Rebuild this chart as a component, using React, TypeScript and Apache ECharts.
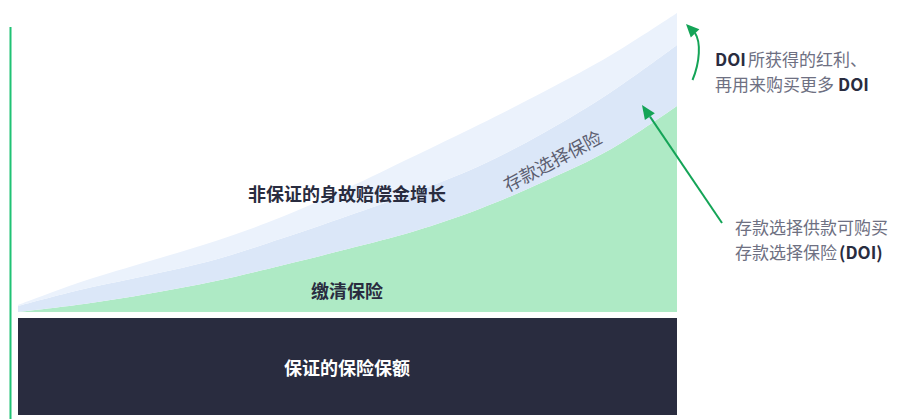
import React, { useEffect, useRef } from "react";
import * as echarts from "echarts";

// Policy years (hidden category axis)
const years = ["0", "1", "2", "3", "4", "5", "6", "7", "8", "9", "10"];
// Guaranteed sum assured (flat base block)
const guaranteedBase = [97, 97, 97, 97, 97, 97, 97, 97, 97, 97, 97];
// White separation between the base and the growth layers
const separation = [6, 6, 6, 6, 6, 6, 6, 6, 6, 6, 6];
// Paid-up additions (缴清保险)
const paidUp = [0, 8, 18.5, 31, 46.5, 63, 80.5, 103, 131, 163, 206];
// Deposit option insurance (存款选择保险)
const depositOption = [6, 15, 18.5, 21.5, 27, 33, 39, 43, 49, 57, 61];
// Dividends of DOI used to buy more DOI
const doiDividends = [1, 8, 14, 18.5, 21.5, 28, 36, 41.5, 41, 37, 32];

const DARK = "#292c3f";
const GREEN_AREA = "#aeeac5";
const MID_BLUE = "#dbe7f8";
const LIGHT_BLUE = "#ebf2fc";
const ARROW = "#14a457";
const GRAY = "#6e7082";
const FONT = "'Noto Sans CJK SC', 'Noto Sans', sans-serif";

export default function App() {
  const ref = useRef<HTMLDivElement>(null);
  useEffect(() => {
    if (!ref.current) return;
    const chart = echarts.init(ref.current, undefined, { renderer: "svg" });
    const layer = (name: string, data: number[], color: string | null) => ({
      name,
      type: "line",
      stack: "total",
      data,
      smooth: 0.35,
      symbol: "none",
      lineStyle: { width: 0, opacity: 0 },
      areaStyle: color ? { color, opacity: 1 } : undefined,
      silent: true,
      z: 1,
    });
    const Z = 100;
    const note = (text: string, x: number, y: number, bold: boolean) => ({
      type: "text",
      z: Z,
      x,
      y,
      style: {
        text,
        fill: bold ? DARK : GRAY,
        font: `${bold ? "bold " : ""}17px ${FONT}`,
        lineHeight: 20,
        align: "left",
        verticalAlign: "middle",
      },
    });
    chart.setOption({
      animation: false,
      grid: { left: 18, right: 225, top: 0, bottom: 4 },
      xAxis: {
        type: "category",
        data: years,
        boundaryGap: false,
        show: false,
      },
      yAxis: { type: "value", min: 0, max: 415, show: false },
      series: [
        layer("保证的保险保额", guaranteedBase, DARK),
        layer("gap", separation, null),
        layer("缴清保险", paidUp, GREEN_AREA),
        layer("存款选择保险", depositOption, MID_BLUE),
        layer("DOI 红利", doiDividends, LIGHT_BLUE),
      ],
      graphic: [
        {
          type: "line",
          z: Z,
          shape: { x1: 10.5, y1: 27, x2: 10.5, y2: 419 },
          style: { stroke: "#1fc274", lineWidth: 2 },
        },
        {
          type: "text",
          z: Z,
          x: 347,
          y: 193,
          style: {
            text: "非保证的身故赔偿金增长",
            fill: DARK,
            font: `bold 18px ${FONT}`,
            align: "center",
            verticalAlign: "middle",
          },
        },
        {
          type: "text",
          z: Z,
          x: 347,
          y: 290,
          style: {
            text: "缴清保险",
            fill: DARK,
            font: `bold 18px ${FONT}`,
            align: "center",
            verticalAlign: "middle",
          },
        },
        {
          type: "text",
          z: Z,
          x: 347,
          y: 367,
          style: {
            text: "保证的保险保额",
            fill: "#ffffff",
            font: `bold 18px ${FONT}`,
            align: "center",
            verticalAlign: "middle",
          },
        },
        {
          type: "text",
          z: Z,
          x: 552,
          y: 160,
          rotation: (28 * Math.PI) / 180,
          style: {
            text: "存款选择保险",
            fill: "#5b5e70",
            font: `18px ${FONT}`,
            align: "center",
            verticalAlign: "middle",
          },
        },
        note("DOI", 715, 58, true),
        note("所获得的红利、", 748, 58, false),
        note("再用来购买更多", 715, 83, false),
        note("DOI", 838, 83, true),
        note("存款选择供款可购买", 735, 226, false),
        note("存款选择保险", 735, 251, false),
        note("(DOI)", 839, 251, true),
        {
          type: "bezierCurve",
          z: Z,
          shape: { x1: 692.5, y1: 80, cpx1: 700, cpy1: 62, cpx2: 701, cpy2: 42, x2: 695, y2: 33 },
          style: { stroke: ARROW, lineWidth: 2, fill: "none" },
        },
        {
          type: "polygon",
          z: Z,
          shape: { points: [[686, 24], [699.4, 29.2], [690.8, 37.6]] },
          style: { fill: ARROW },
        },
        {
          type: "line",
          z: Z,
          shape: { x1: 722, y1: 223, x2: 650, y2: 116.6 },
          style: { stroke: ARROW, lineWidth: 2 },
        },
        {
          type: "polygon",
          z: Z,
          shape: { points: [[642, 105], [654.8, 113.2], [644.9, 120.0]] },
          style: { fill: ARROW },
        },
      ],
    });
    return () => chart.dispose();
  }, []);
  return (
    <div
      ref={ref}
      style={{ position: "absolute", left: 0, top: 0, width: 902, height: 419 }}
    />
  );
}
